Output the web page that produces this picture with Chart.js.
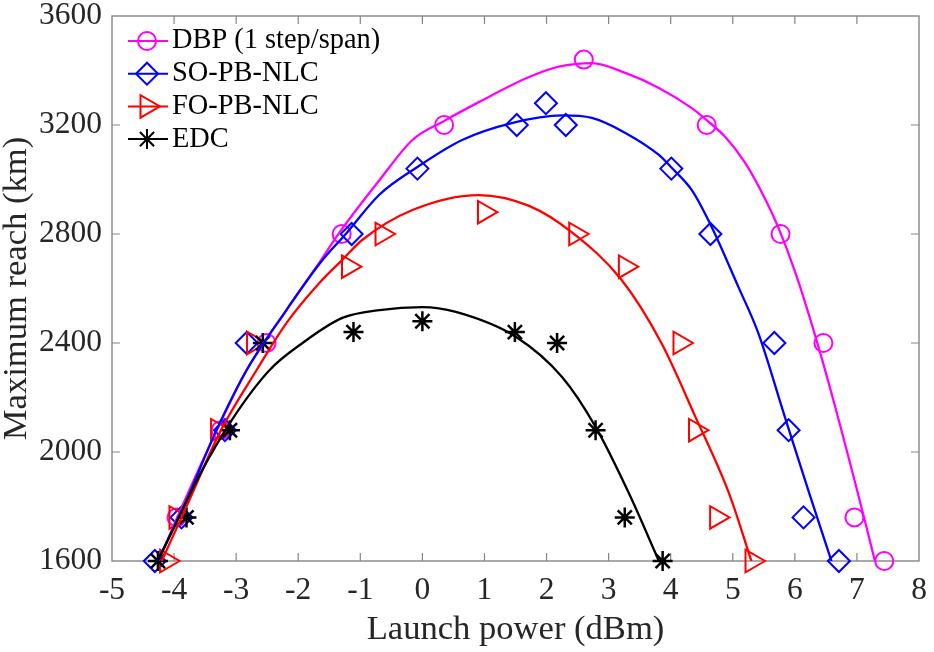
<!DOCTYPE html>
<html>
<head>
<meta charset="utf-8">
<script src="https://cdn.jsdelivr.net/npm/chart.js"></script>
<style>
  html, body { margin: 0; padding: 0; background: #ffffff; }
  #wrap { width: 934px; height: 652px; }
</style>
</head>
<body>
<div id="wrap"><canvas id="chart" width="934" height="652"></canvas></div>
<script>
// measured points (markers)
const dbpX = [-3.96, -3.25, -2.51, -1.30, 0.35, 2.60, 4.58, 5.77, 6.46, 6.96, 7.44];
const dbpY = [1760, 2080, 2400, 2800, 3200, 3440, 3200, 2800, 2400, 1760, 1600];
const soX = [-4.31, -3.88, -3.18, -2.83, -1.14, -0.08, 1.52, 1.99, 2.31, 4.01, 4.64, 5.67, 5.90, 6.14, 6.71];
const soY = [1600, 1760, 2080, 2400, 2800, 3040, 3200, 3280, 3200, 3040, 2800, 2400, 2080, 1760, 1600];
const foX = [-4.12, -3.97, -3.30, -2.72, -1.19, -0.65, 1.00, 2.47, 3.27, 4.15, 4.40, 4.74, 5.31];
const foY = [1600, 1760, 2080, 2400, 2680, 2800, 2880, 2800, 2680, 2400, 2080, 1760, 1600];
const edcX = [-4.26, -3.80, -3.10, -2.57, -1.11, 0.00, 1.49, 2.17, 2.79, 3.26, 3.87];
const edcY = [1600, 1760, 2080, 2400, 2440, 2480, 2440, 2400, 2080, 1760, 1600];

// fitted curves
const dbpFitX = [-4.25, -3.9, -3.3, -2.83, -2.19, -1.66, -1.34, -0.69, -0.16, 0.35, 0.91, 1.72, 2.20, 2.73, 3.27, 3.81, 4.34, 4.58, 4.88, 5.20, 5.53, 5.73, 6.01, 6.30, 6.62, 7.08, 7.29];
const dbpFitY = [1600, 1785, 2085, 2301, 2521, 2695, 2804, 2998, 3145, 3215, 3284, 3376, 3414, 3427, 3391, 3336, 3262, 3218, 3156, 3061, 2925, 2826, 2657, 2448, 2191, 1791, 1600];
const soFitX = [-4.27, -3.86, -3.31, -2.83, -2.19, -1.66, -1.22, -0.69, -0.08, 0.64, 1.44, 2.25, 2.73, 3.27, 3.81, 4.02, 4.34, 4.66, 5.09, 5.41, 5.84, 6.23, 6.59];
const soFitY = [1600, 1791, 2084, 2301, 2521, 2690, 2804, 2945, 3046, 3145, 3207, 3235, 3226, 3171, 3090, 3042, 2961, 2826, 2606, 2437, 2128, 1850, 1600];
const foFitX = [-4.2, -3.80, -3.26, -2.67, -2.19, -1.66, -1.29, -0.97, -0.16, 0.91, 1.72, 2.42, 3.21, 3.85, 4.40, 4.95, 5.30];
const foFitY = [1600, 1800, 2073, 2301, 2473, 2620, 2705, 2778, 2888, 2943, 2903, 2804, 2631, 2400, 2128, 1842, 1600];
const edcFitX = [-4.26, -3.59, -3.06, -2.46, -1.93, -1.29, -0.69, 0.00, 0.54, 1.51, 2.25, 2.79, 3.34, 3.81];
const edcFitY = [1600, 1915, 2121, 2301, 2400, 2492, 2521, 2532, 2514, 2422, 2275, 2092, 1842, 1600];

const legendNames = ['DBP (1 step/span)', 'SO-PB-NLC', 'FO-PB-NLC', 'EDC'];

const serif = "'Liberation Serif', 'Times New Roman', serif";

function pts(xs, ys) {
  return xs.map((x, i) => ({x: x, y: ys[i]}));
}

// style per series
const styles = [
  {color: '#ff00ff', pointStyle: 'circle', radius: 9, rotation: 0, width: 2},
  {color: '#0000ff', pointStyle: 'rectRot', radius: 11, rotation: 0, width: 2},
  {color: '#ff0000', pointStyle: 'triangle', radius: 13, rotation: 90, width: 2},
  {color: '#000000', pointStyle: 'star', radius: 10, rotation: 0, width: 2.5}
];

function markSet(xs, ys, st, order) {
  return {
    data: pts(xs, ys),
    showLine: false,
    pointStyle: st.pointStyle,
    pointRadius: st.radius,
    pointRotation: st.rotation,
    pointBorderColor: st.color,
    pointBackgroundColor: 'rgba(0,0,0,0)',
    pointBorderWidth: st.width,
    clip: false,
    order: order
  };
}

function fitSet(xs, ys, st, order) {
  return {
    data: pts(xs, ys),
    borderColor: st.color,
    borderWidth: 2.3,
    pointRadius: 0,
    cubicInterpolationMode: 'monotone',
    fill: false,
    order: order
  };
}

const datasets = [
  markSet(dbpX, dbpY, styles[0], 8),
  markSet(soX, soY, styles[1], 7),
  markSet(foX, foY, styles[2], 6),
  markSet(edcX, edcY, styles[3], 5),
  fitSet(dbpFitX, dbpFitY, styles[0], 4),
  fitSet(soFitX, soFitY, styles[1], 3),
  fitSet(foFitX, foFitY, styles[2], 2),
  fitSet(edcFitX, edcFitY, styles[3], 1)
];

// box round the axes with inward ticks on all four sides
const framePlugin = {
  id: 'frame',
  beforeDatasetsDraw(chart) {
    const {ctx, chartArea: a, scales} = chart;
    ctx.save();
    ctx.strokeStyle = '#858585';
    ctx.lineWidth = 1.4;
    ctx.strokeRect(a.left, a.top, a.right - a.left, a.bottom - a.top);
    ctx.lineWidth = 1.2;
    ctx.beginPath();
    scales.x.ticks.forEach(t => {
      const px = scales.x.getPixelForValue(t.value);
      if (px <= a.left + 1 || px >= a.right - 1) return;
      ctx.moveTo(px, a.bottom); ctx.lineTo(px, a.bottom - 8);
      ctx.moveTo(px, a.top); ctx.lineTo(px, a.top + 8);
    });
    scales.y.ticks.forEach(t => {
      const py = scales.y.getPixelForValue(t.value);
      if (py <= a.top + 1 || py >= a.bottom - 1) return;
      ctx.moveTo(a.left, py); ctx.lineTo(a.left + 8, py);
      ctx.moveTo(a.right, py); ctx.lineTo(a.right - 8, py);
    });
    ctx.stroke();
    ctx.restore();
  }
};

// legend in the upper left corner: line sample + marker + name
const legendPlugin = {
  id: 'insideLegend',
  afterDraw(chart) {
    const {ctx} = chart;
    ctx.save();
    ctx.font = '28.4px ' + serif;
    ctx.textBaseline = 'middle';
    ctx.textAlign = 'left';
    legendNames.forEach((name, i) => {
      const st = styles[i];
      const y = 41 + i * 32.7;
      ctx.strokeStyle = st.color;
      ctx.lineWidth = 2;
      ctx.beginPath();
      ctx.moveTo(128, y);
      ctx.lineTo(168, y);
      ctx.stroke();
      ctx.fillStyle = 'rgba(0,0,0,0)';
      Chart.helpers.drawPoint(ctx, {
        pointStyle: st.pointStyle,
        radius: st.radius,
        rotation: st.rotation,
        borderWidth: st.width
      }, 147, y);
      ctx.fillStyle = '#000000';
      ctx.fillText(name, 172, y);
    });
    ctx.restore();
  }
};

// keep the plot box where the reference has it
function noPad(scale) {
  scale.paddingTop = 0;
  scale.paddingBottom = 0;
  scale.paddingLeft = 0;
  scale.paddingRight = 0;
}

new Chart(document.getElementById('chart'), {
  type: 'line',
  data: {datasets: datasets},
  options: {
    responsive: false,
    animation: false,
    devicePixelRatio: 1,
    layout: {padding: {top: 16, right: 13, left: 0, bottom: 0}},
    plugins: {
      legend: {display: false},
      tooltip: {enabled: false}
    },
    scales: {
      x: {
        type: 'linear',
        min: -5,
        max: 8,
        grid: {display: false, drawTicks: false},
        border: {display: false},
        ticks: {
          stepSize: 1,
          padding: 14,
          color: '#262626',
          font: {family: serif, size: 31.5, lineHeight: 1},
          callback: v => String(v)
        },
        title: {
          display: true,
          text: 'Launch power (dBm)',
          color: '#262626',
          padding: {top: 0, bottom: 1},
          font: {family: serif, size: 34.6, lineHeight: 1.2}
        },
        afterFit(scale) { scale.height = 91; noPad(scale); }
      },
      y: {
        type: 'linear',
        min: 1600,
        max: 3600,
        grid: {display: false, drawTicks: false},
        border: {display: false},
        ticks: {
          stepSize: 400,
          padding: 10,
          color: '#262626',
          font: {family: serif, size: 31.5, lineHeight: 1},
          callback: v => String(v)
        },
        title: {
          display: true,
          text: 'Maximum reach (km)',
          color: '#262626',
          padding: {top: 0, bottom: 0},
          font: {family: serif, size: 34.6, lineHeight: 1}
        },
        afterFit(scale) { scale.width = 112; noPad(scale); }
      }
    }
  },
  plugins: [framePlugin, legendPlugin]
});
</script>
</body>
</html>
